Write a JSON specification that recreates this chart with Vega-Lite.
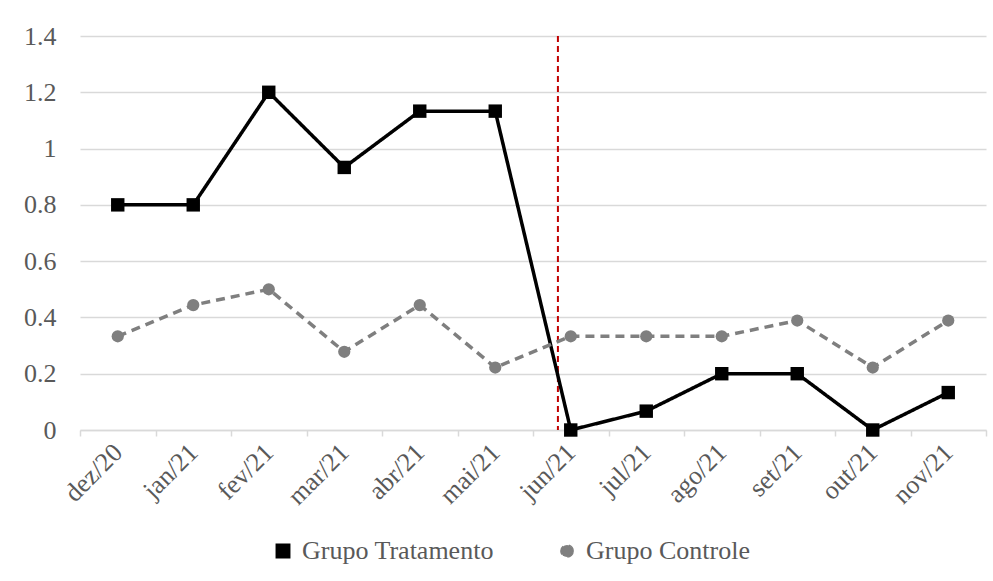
{
  "$schema": "https://vega.github.io/schema/vega-lite/v6.json",
  "width": 906,
  "height": 394,
  "autosize": "none",
  "padding": {"left": 80, "top": 36, "right": 7, "bottom": 151},
  "background": "white",
  "config": {
    "font": "Liberation Serif",
    "view": {"stroke": null},
    "axis": {
      "labelFont": "Liberation Serif",
      "labelFontSize": 26,
      "labelColor": "#595959",
      "title": null,
      "gridColor": "#d9d9d9",
      "gridWidth": 1.5,
      "domainColor": "#d9d9d9",
      "domainWidth": 1.5,
      "tickColor": "#d9d9d9",
      "tickWidth": 1.5
    },
    "legend": {
      "labelFont": "Liberation Serif",
      "labelFontSize": 26,
      "labelColor": "#595959",
      "labelLimit": 400,
      "padding": 0
    }
  },
  "data": {
    "values": [
      {"mes": "dez/20", "grupo": "Grupo Tratamento", "valor": 0.8},
      {"mes": "jan/21", "grupo": "Grupo Tratamento", "valor": 0.8},
      {"mes": "fev/21", "grupo": "Grupo Tratamento", "valor": 1.2},
      {"mes": "mar/21", "grupo": "Grupo Tratamento", "valor": 0.933},
      {"mes": "abr/21", "grupo": "Grupo Tratamento", "valor": 1.133},
      {"mes": "mai/21", "grupo": "Grupo Tratamento", "valor": 1.133},
      {"mes": "jun/21", "grupo": "Grupo Tratamento", "valor": 0},
      {"mes": "jul/21", "grupo": "Grupo Tratamento", "valor": 0.067},
      {"mes": "ago/21", "grupo": "Grupo Tratamento", "valor": 0.2},
      {"mes": "set/21", "grupo": "Grupo Tratamento", "valor": 0.2},
      {"mes": "out/21", "grupo": "Grupo Tratamento", "valor": 0},
      {"mes": "nov/21", "grupo": "Grupo Tratamento", "valor": 0.133},
      {"mes": "dez/20", "grupo": "Grupo Controle", "valor": 0.333},
      {"mes": "jan/21", "grupo": "Grupo Controle", "valor": 0.444},
      {"mes": "fev/21", "grupo": "Grupo Controle", "valor": 0.5},
      {"mes": "mar/21", "grupo": "Grupo Controle", "valor": 0.278},
      {"mes": "abr/21", "grupo": "Grupo Controle", "valor": 0.444},
      {"mes": "mai/21", "grupo": "Grupo Controle", "valor": 0.222},
      {"mes": "jun/21", "grupo": "Grupo Controle", "valor": 0.333},
      {"mes": "jul/21", "grupo": "Grupo Controle", "valor": 0.333},
      {"mes": "ago/21", "grupo": "Grupo Controle", "valor": 0.333},
      {"mes": "set/21", "grupo": "Grupo Controle", "valor": 0.389},
      {"mes": "out/21", "grupo": "Grupo Controle", "valor": 0.222},
      {"mes": "nov/21", "grupo": "Grupo Controle", "valor": 0.389}
    ]
  },
  "encoding": {
    "x": {
      "field": "mes",
      "type": "ordinal",
      "scale": {
        "type": "band",
        "paddingInner": 0,
        "paddingOuter": 0,
        "domain": ["dez/20", "jan/21", "fev/21", "mar/21", "abr/21", "mai/21", "jun/21", "jul/21", "ago/21", "set/21", "out/21", "nov/21"]
      },
      "axis": {
        "labelAngle": -45,
        "labelAlign": "right",
        "labelBaseline": "middle",
        "labelFont": "Liberation Serif",
        "tickBand": "extent",
        "tickSize": 6,
        "labelPadding": 12,
        "grid": false
      }
    }
  },
  "layer": [
    {
      "data": {"values": [{"marco": "jun/21"}]},
      "mark": {"type": "rule", "color": "#c00000", "strokeDash": [6, 4], "strokeWidth": 2},
      "encoding": {
        "x": {"field": "marco", "type": "ordinal", "bandPosition": 0.33}
      }
    },
    {
      "mark": {"type": "line", "strokeWidth": 3.5},
      "encoding": {
        "y": {
          "field": "valor",
          "type": "quantitative",
          "scale": {"domain": [0, 1.4]},
          "axis": {
            "values": [0, 0.2, 0.4, 0.6, 0.8, 1, 1.2, 1.4],
            "format": "~g",
            "labelFont": "Liberation Serif",
            "ticks": false,
            "domain": false,
            "labelPadding": 24
          }
        },
        "color": {
          "field": "grupo",
          "type": "nominal",
          "scale": {"domain": ["Grupo Tratamento", "Grupo Controle"], "range": ["#000000", "#7f7f7f"]},
          "legend": {
            "title": null,
            "orient": "none",
            "direction": "horizontal",
            "legendX": 190,
            "legendY": 502,
            "columnPadding": 60,
            "labelOffset": 6,
            "labelFont": "Liberation Serif",
            "symbolSize": 160
          }
        },
        "strokeDash": {
          "field": "grupo",
          "type": "nominal",
          "scale": {"domain": ["Grupo Tratamento", "Grupo Controle"], "range": [[1, 0], [9, 6]]},
          "legend": null
        }
      }
    },
    {
      "mark": {"type": "point", "filled": true, "opacity": 1},
      "encoding": {
        "y": {"field": "valor", "type": "quantitative"},
        "color": {
          "field": "grupo",
          "type": "nominal",
          "scale": {"domain": ["Grupo Tratamento", "Grupo Controle"], "range": ["#000000", "#7f7f7f"]},
          "legend": {
            "title": null,
            "orient": "none",
            "direction": "horizontal",
            "legendX": 190,
            "legendY": 502,
            "columnPadding": 60,
            "labelOffset": 6,
            "labelFont": "Liberation Serif",
            "symbolSize": 160
          }
        },
        "shape": {
          "field": "grupo",
          "type": "nominal",
          "scale": {"domain": ["Grupo Tratamento", "Grupo Controle"], "range": ["square", "circle"]},
          "legend": null
        },
        "size": {
          "field": "grupo",
          "type": "nominal",
          "scale": {"domain": ["Grupo Tratamento", "Grupo Controle"], "range": [180, 150]},
          "legend": null
        }
      }
    }
  ]
}
